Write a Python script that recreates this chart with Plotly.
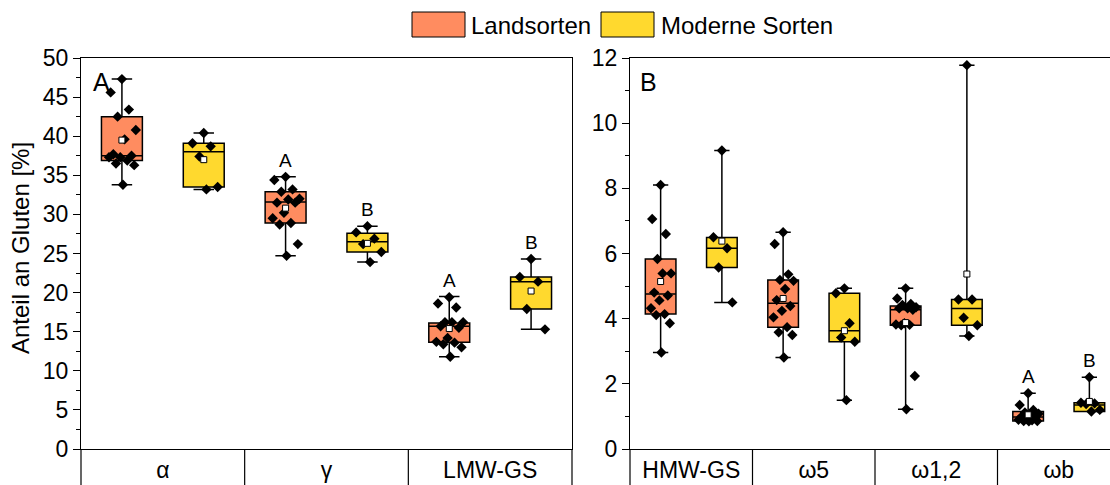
import plotly.graph_objects as go

# ---------------- data ----------------
cats_A = ["α", "γ", "LMW-GS"]
cats_B = ["HMW-GS", "ω5", "ω1,2", "ωb"]
groups = ["Landsorten", "Moderne Sorten"]

# Panel A - Landsorten (individual values)
A_land_pts = [
    [47.3, 45.6, 43.4, 42.5, 40.8, 39.6, 37.7, 37.5, 37.3, 37.3, 36.9, 36.5, 36.3, 33.8],
    [34.8, 34.4, 33.2, 32.9, 32.0, 31.9, 31.5, 31.5, 30.2, 29.5, 28.9, 28.7, 26.2, 24.7],
    [19.4, 18.6, 18.1, 16.2, 16.2, 16.2, 15.7, 15.5, 14.2, 13.7, 13.6, 13.4, 13.0, 11.8],
]
A_mod_pts = [
    [40.4, 39.1, 38.7, 37.4, 33.5, 33.2],
    [28.5, 27.7, 26.9, 26.2, 25.2, 23.9],
    [24.3, 22.0, 21.4, 17.9, 15.3],
]
# Panel A box statistics
A_land_q1 = [36.9, 28.9, 13.65]
A_land_med = [37.5, 31.6, 15.7]
A_land_q3 = [42.5, 32.9, 16.1]
A_land_lo = [33.8, 24.7, 11.8]
A_land_hi = [47.3, 34.8, 19.5]
A_land_mean = [39.5, 30.8, 15.4]
A_mod_q1 = [33.5, 25.2, 17.9]
A_mod_med = [38.0, 26.5, 21.4]
A_mod_q3 = [39.1, 27.6, 22.0]
A_mod_lo = [33.2, 23.9, 15.3]
A_mod_hi = [40.4, 28.5, 24.3]
A_mod_mean = [37.0, 26.3, 20.2]
A_land_sig = ["", "A", "A"]
A_mod_sig = ["", "B", "B"]

# Panel B - individual values
B_land_pts = [
    [8.10, 7.06, 6.60, 5.83, 5.39, 5.39, 4.80, 4.71, 4.56, 4.32, 4.14, 4.11, 3.86, 2.96],
    [6.65, 6.29, 5.36, 5.19, 5.16, 4.91, 4.57, 4.39, 4.24, 4.04, 3.74, 3.58, 3.50, 2.81],
    [4.93, 4.62, 4.45, 4.42, 4.35, 4.32, 4.32, 4.27, 3.86, 3.82, 3.81, 3.80, 2.24, 1.22],
    [1.71, 1.35, 1.20, 1.12, 1.08, 1.05, 1.00, 0.95, 0.92, 0.90, 0.88, 0.86, 0.86, 0.85],
]
B_mod_pts = [
    [9.16, 6.50, 6.16, 5.57, 4.50],
    [4.93, 4.78, 3.86, 3.42, 3.29, 1.50],
    [11.78, 4.59, 4.59, 4.03, 3.80, 3.47],
    [2.20, 1.42, 1.40, 1.38, 1.20, 1.15],
]
B_land_q1 = [4.14, 3.74, 3.80, 0.86]
B_land_med = [4.76, 4.47, 4.27, 0.98]
B_land_q3 = [5.83, 5.19, 4.39, 1.15]
B_land_lo = [2.96, 2.81, 1.22, 0.85]
B_land_hi = [8.10, 6.65, 4.93, 1.71]
B_land_mean = [5.14, 4.62, 3.88, 1.05]
B_mod_q1 = [5.57, 3.29, 3.80, 1.15]
B_mod_med = [6.16, 3.63, 4.31, 1.35]
B_mod_q3 = [6.49, 4.78, 4.59, 1.42]
B_mod_lo = [4.50, 1.50, 3.47, 1.15]
B_mod_hi = [9.16, 4.93, 11.78, 2.20]
B_mod_mean = [6.38, 3.63, 5.37, 1.46]
B_land_sig = ["", "", "", "A"]
B_mod_sig = ["", "", "", "B"]

# ---------------- style / layout ----------------
FONT = "Liberation Sans, Arial, sans-serif"
C_LAND = "#FF8C60"
C_MOD = "#FFD92E"
W, H = 1110, 485
ML, MT, MB, MR = 81, 58, 36, 0
PW, PH = W - ML - MR, H - MT - MB


def px2paper_x(px):
    return (px - ML) / PW


def px2paper_y(py):
    return (H - MB - py) / PH


domA = [0, px2paper_x(572)]
domB = [px2paper_x(630), 1]
unitB = 122.5
rangeA = [-0.5, 2.5]
rangeB = [-0.5, -0.5 + (W - 630) / unitB]
OFF = 0.25
BOXW = 0.25


def jitter(n):
    # deterministic spread of point positions around the box centre (first value centred)
    return [(((k * 0.618034 + 0.5) % 1.0) - 0.5) * 0.18 for k in range(n)]


fig = go.Figure()


def add_panel(xa, ya, land, mod):
    for (pts, q1, med, q3, lo, hi, mean, col, off) in (land + (C_LAND, -OFF), mod + (C_MOD, OFF)):
        n = len(q1)
        xs = [i + off for i in range(n)]
        fig.add_trace(go.Box(
            x=xs, q1=q1, median=med, q3=q3, lowerfence=lo, upperfence=hi,
            width=BOXW, fillcolor=col, line=dict(color="black", width=1.5),
            whiskerwidth=0.5, boxpoints=False, xaxis=xa, yaxis=ya,
            showlegend=False, hoverinfo="skip"))
        px_, py_ = [], []
        for i, vals in enumerate(pts):
            j = jitter(len(vals))
            px_ += [i + off + jj for jj in j]
            py_ += vals
        fig.add_trace(go.Scatter(
            x=px_, y=py_, mode="markers", xaxis=xa, yaxis=ya,
            marker=dict(symbol="diamond", size=8, color="black"),
            showlegend=False, hoverinfo="skip"))
        fig.add_trace(go.Scatter(
            x=xs, y=mean, mode="markers", xaxis=xa, yaxis=ya,
            marker=dict(symbol="square", size=6, color="white",
                        line=dict(color="black", width=1)),
            showlegend=False, hoverinfo="skip"))


add_panel("x", "y",
          (A_land_pts, A_land_q1, A_land_med, A_land_q3, A_land_lo, A_land_hi, A_land_mean),
          (A_mod_pts, A_mod_q1, A_mod_med, A_mod_q3, A_mod_lo, A_mod_hi, A_mod_mean))
add_panel("x2", "y2",
          (B_land_pts, B_land_q1, B_land_med, B_land_q3, B_land_lo, B_land_hi, B_land_mean),
          (B_mod_pts, B_mod_q1, B_mod_med, B_mod_q3, B_mod_lo, B_mod_hi, B_mod_mean))

annotations = []
for xr, yr, sigs, his, off in (("x", "y", A_land_sig, A_land_hi, -OFF), ("x", "y", A_mod_sig, A_mod_hi, OFF),
                               ("x2", "y2", B_land_sig, B_land_hi, -OFF), ("x2", "y2", B_mod_sig, B_mod_hi, OFF)):
    for i, s in enumerate(sigs):
        if s:
            annotations.append(dict(x=i + off, y=his[i], xref=xr, yref=yr, text=s,
                                    showarrow=False, xanchor="center", yanchor="bottom", yshift=4,
                                    font=dict(size=19, color="black", family=FONT)))

# panel letters
for letter, lx in (("A", 101), ("B", 648)):
    annotations.append(dict(x=px2paper_x(lx), y=px2paper_y(82), xref="paper", yref="paper", text=letter,
                            showarrow=False, xanchor="center", yanchor="middle",
                            font=dict(size=25, color="black", family=FONT)))
# y title
annotations.append(dict(x=px2paper_x(20), y=px2paper_y(248), xref="paper", yref="paper",
                        text="Anteil an Gluten [%]", textangle=-90, showarrow=False,
                        xanchor="center", yanchor="middle",
                        font=dict(size=24, color="black", family=FONT)))

shapes = []
# legend
for (x0, x1, col, label, tx) in ((412, 465, C_LAND, groups[0], 469), (601, 654, C_MOD, groups[1], 659)):
    shapes.append(dict(type="rect", xref="paper", yref="paper",
                       x0=px2paper_x(x0), x1=px2paper_x(x1), y0=px2paper_y(37), y1=px2paper_y(12),
                       fillcolor=col, line=dict(color="black", width=1)))
    annotations.append(dict(x=px2paper_x(tx), y=px2paper_y(25), xref="paper", yref="paper",
                            text=label, showarrow=False, xanchor="left", yanchor="middle",
                            font=dict(size=24, color="black", family=FONT)))


# category row separators
def data2paper(v, dom, rng):
    return dom[0] + (v - rng[0]) / (rng[1] - rng[0]) * (dom[1] - dom[0])


ybot = -MB / PH
for k in range(len(cats_A) + 1):
    xp = data2paper(k - 0.5, domA, rangeA)
    shapes.append(dict(type="line", xref="paper", yref="paper", x0=xp, x1=xp, y0=0, y1=ybot,
                       line=dict(color="black", width=1.2)))
for k in range(len(cats_B) + 1):
    xp = data2paper(k - 0.5, domB, rangeB)
    if xp <= 1:
        shapes.append(dict(type="line", xref="paper", yref="paper", x0=xp, x1=xp, y0=0, y1=ybot,
                           line=dict(color="black", width=1.2)))

axis_common = dict(showgrid=False, zeroline=False, showline=True, linecolor="black", linewidth=1.2)
tickfont = dict(size=23, color="black", family=FONT)

fig.update_layout(
    width=W, height=H,
    margin=dict(l=ML, r=MR, t=MT, b=MB, pad=0),
    paper_bgcolor="white", plot_bgcolor="white",
    boxmode="overlay", showlegend=False,
    font=dict(family=FONT, color="black"),
    xaxis=dict(domain=domA, range=rangeA, tickvals=list(range(len(cats_A))), ticktext=cats_A,
               ticks="", mirror=True, tickfont=tickfont, anchor="y", **axis_common),
    xaxis2=dict(domain=domB, range=rangeB, tickvals=list(range(len(cats_B))), ticktext=cats_B,
                ticks="", mirror=True, tickfont=tickfont, anchor="y2", **axis_common),
    yaxis=dict(range=[0, 50], dtick=5, tick0=0, ticks="outside", ticklen=7, tickwidth=1.2,
               minor=dict(ticks="outside", ticklen=4, dtick=2.5, tickwidth=1.2, tickcolor="black"),
               tickcolor="black", mirror=True, tickfont=tickfont, anchor="x", **axis_common),
    yaxis2=dict(range=[0, 12], dtick=2, tick0=0, ticks="outside", ticklen=7, tickwidth=1.2,
                minor=dict(ticks="outside", ticklen=4, dtick=1, tickwidth=1.2, tickcolor="black"),
                tickcolor="black", tickfont=tickfont, anchor="x2", **axis_common),
    annotations=annotations,
    shapes=shapes,
)

fig.write_html("out.html")
